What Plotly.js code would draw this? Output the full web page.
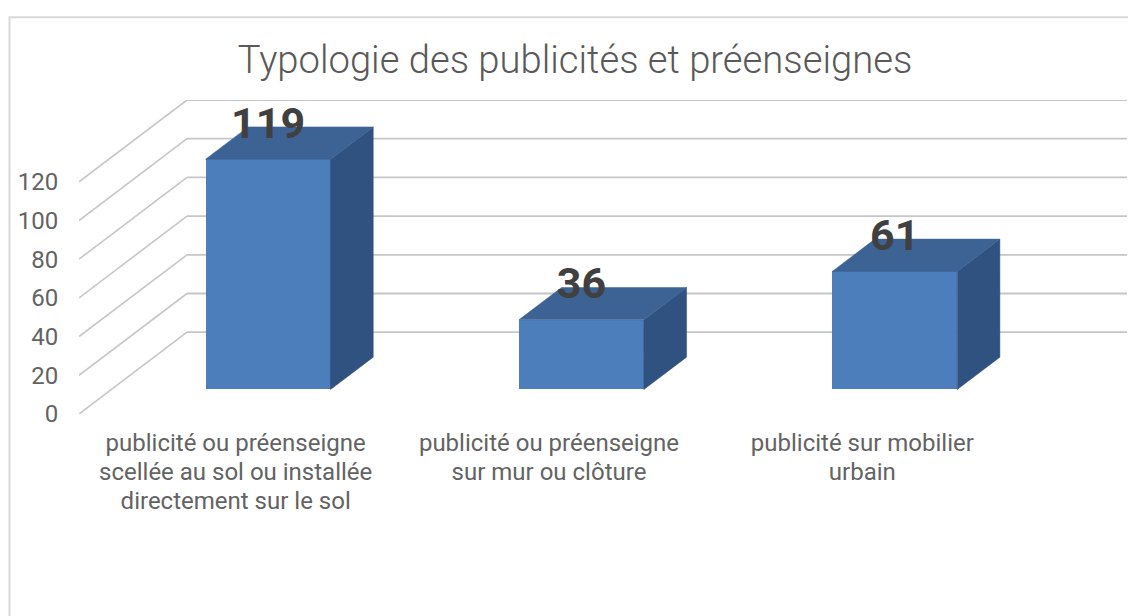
<!DOCTYPE html>
<html><head><meta charset="utf-8">
<script src="https://cdn.plot.ly/plotly-3.0.1.min.js"></script>
<style>html,body{margin:0;padding:0;background:#fff;overflow:hidden}#c{width:1128px;height:616px}</style>
</head><body><div id="c"></div>
<script>
const categories = ["publicité ou préenseigne<br>scellée au sol ou installée<br>directement sur le sol",
                    "publicité ou préenseigne<br>sur mur ou clôture",
                    "publicité sur mobilier<br>urbain"];
const values = [119, 36, 61];
const yTicks = [0, 20, 40, 60, 80, 100, 120];
const chartTitle = "Typologie des publicités et préenseignes";

// Oblique projection: depth moves a point right (category units) and up (value units)
const W = 1128, H = 616, L = 79, R = 1127, T = 99.5, B = 414.3;
const pxPerCat = 313.3, pxPerVal = 1.94;
const depthX = 108 / pxPerCat, depthY = 82 / pxPerVal;
const barFrontDepth = 0.30, barBackDepth = 0.695, barWidth = 125 / pxPerCat;
const labelLift = 16.6;
const idx = categories.map((_, i) => i);
const fx = (i, d, side) => i + d * depthX + side * barWidth / 2;
const fy = (v, d) => v + d * depthY;

const gridColor = "#c6c6c6";
const shapes = [];
yTicks.forEach(v => {
  shapes.push({type:"line", layer:"below", xref:"x", yref:"y", x0:-0.5, y0:v, x1:-0.5+depthX, y1:v+depthY, line:{color:gridColor,width:1.6}});
  shapes.push({type:"line", layer:"below", xref:"x", yref:"y", x0:-0.5+depthX, y0:v+depthY, x1:2.5+depthX, y1:v+depthY, line:{color:gridColor,width:1.8}});
});
const px = p => (p - L) / (R - L), py = p => (B - p) / (B - T);
shapes.push({type:"path", layer:"below", xref:"paper", yref:"paper",
  path:`M ${px(9.5)} ${py(H+2)} L ${px(9.5)} ${py(16.5)} L ${px(W+2)} ${py(16.5)}`,
  line:{color:"#d9d9d9",width:2}});

const traces = [];
traces.push({type:"bar", x:idx.map(i=>fx(i,barFrontDepth,0)), y:values, base:values.map(()=>fy(0,barFrontDepth)),
  width:barWidth, marker:{color:"#4c7ebb",line:{width:0}}, hoverinfo:"skip"});
idx.forEach(i => {
  const v = values[i];
  traces.push({type:"scatter", mode:"lines", fill:"toself", fillcolor:"#305280", line:{width:0.5,color:"#305280"}, hoverinfo:"skip",
    x:[fx(i,barFrontDepth,1),fx(i,barBackDepth,1),fx(i,barBackDepth,1),fx(i,barFrontDepth,1),fx(i,barFrontDepth,1)],
    y:[fy(0,barFrontDepth),fy(0,barBackDepth),fy(v,barBackDepth),fy(v,barFrontDepth),fy(0,barFrontDepth)]});
  traces.push({type:"scatter", mode:"lines", fill:"toself", fillcolor:"#3c6394", line:{width:0.5,color:"#3c6394"}, hoverinfo:"skip",
    x:[fx(i,barFrontDepth,-1),fx(i,barFrontDepth,1),fx(i,barBackDepth,1),fx(i,barBackDepth,-1),fx(i,barFrontDepth,-1)],
    y:[fy(v,barFrontDepth),fy(v,barFrontDepth),fy(v,barBackDepth),fy(v,barBackDepth),fy(v,barFrontDepth)]});
});
traces.push({type:"scatter", mode:"text", x:idx.map(i=>fx(i,barFrontDepth,0)), y:values.map(v=>fy(v,barFrontDepth)+labelLift),
  text:values.map(String), textposition:"middle center", hoverinfo:"skip", cliponaxis:false,
  textfont:{family:"Roboto",size:43,color:"#404040",weight:700}});

Plotly.newPlot("c", traces, {
  width:W, height:H, showlegend:false, paper_bgcolor:"rgba(0,0,0,0)", plot_bgcolor:"rgba(0,0,0,0)",
  margin:{l:L,r:W-R,t:T,b:H-B,pad:0},
  font:{family:"Roboto",color:"#595959",size:24},
  title:{text:chartTitle, x:575/W, xanchor:"center", y:1-60/H, yanchor:"middle", yref:"container", font:{family:"Roboto",size:38.2,color:"#595959",weight:300}},
  xaxis:{range:[-0.5,2.5+depthX], tickmode:"array", tickvals:idx, ticktext:categories, showgrid:false, zeroline:false, showline:false,
    ticks:"outside", ticklen:7, tickcolor:"rgba(0,0,0,0)", tickangle:0, tickfont:{family:"Roboto",size:24,color:"#636363"}},
  yaxis:{range:[0,(B-T)/pxPerVal], tickmode:"array", tickvals:yTicks, ticktext:yTicks.map(String), showgrid:false, zeroline:false, showline:false,
    ticks:"outside", ticklen:15, tickcolor:"rgba(0,0,0,0)", tickfont:{family:"Roboto",size:24,color:"#636363"}},
  shapes:shapes, bargap:0
}, {displayModeBar:false, staticPlot:true}).then(gd => {
  // tighten the category label line spacing to the reference's 29px
  gd.querySelectorAll(".xtick text tspan.line").forEach(t => {
    const dy = parseFloat(t.getAttribute("dy") || "0");
    if (dy) t.setAttribute("dy", (dy * 29 / (24 * 1.3)).toFixed(3) + "em");
  });
});
</script></body></html>
